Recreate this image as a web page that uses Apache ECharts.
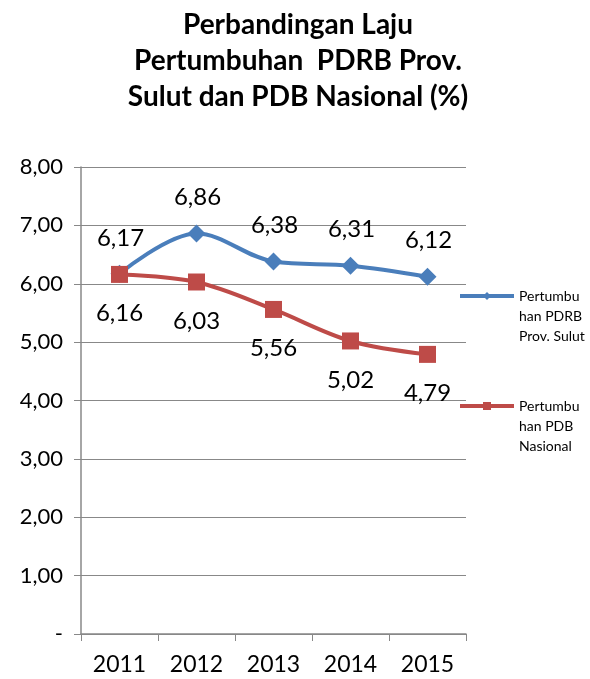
<!DOCTYPE html>
<html>
<head>
<meta charset="utf-8">
<script src="https://cdn.jsdelivr.net/npm/echarts@6/dist/echarts.min.js"></script>
<style>
  html, body { margin: 0; padding: 0; background: #fff; }
  #chart { width: 590px; height: 679px; }
</style>
</head>
<body>
<div id="chart"></div>
<script>
// data
const years = ['2011', '2012', '2013', '2014', '2015'];
const sulut = [6.17, 6.86, 6.38, 6.31, 6.12];
const nasional = [6.16, 6.03, 5.56, 5.02, 4.79];
const seriesNames = ['Pertumbuhan PDRB Prov. Sulut', 'Pertumbuhan PDB Nasional'];
// legend text wraps the same way the original does
const legendLines = {
  'Pertumbuhan PDRB Prov. Sulut': 'Pertumbu\nhan PDRB\nProv. Sulut',
  'Pertumbuhan PDB Nasional': 'Pertumbu\nhan PDB\nNasional'
};

const font = 'Lato, "Open Sans", sans-serif';
const fmt = v => v === 0 ? '-' : v.toFixed(2).replace('.', ',');

let chart = echarts.init(document.getElementById('chart'));
let legendBase = {
  orient: 'vertical',
  left: 458,
  padding: 0,
  itemWidth: 54,
  itemHeight: 10,
  // two blank lines above so the icon sits next to the first text line
  formatter: name => '\n\n' + legendLines[name],
  lineStyle: { width: 4 },
  textStyle: { fontFamily: font, fontSize: 14, lineHeight: 20, color: '#000' }
};
let labelBase = {
  show: true, position: 'inside',
  fontFamily: font, fontSize: 24, color: '#000',
  formatter: p => fmt(p.value)
};

chart.setOption({
  animation: false,
  title: {
    text: 'Perbandingan Laju\nPertumbuhan  PDRB Prov.\nSulut dan PDB Nasional (%)',
    left: 293,
    textAlign: 'center',
    top: 2,
    textStyle: { fontFamily: font, fontSize: 28, fontWeight: 'bold', lineHeight: 36, color: '#000' }
  },
  legend: [
    Object.assign({}, legendBase, { top: 246, data: [seriesNames[0]] }),
    Object.assign({}, legendBase, { top: 356, data: [seriesNames[1]] })
  ],
  grid: { left: 81, right: 124, top: 167, bottom: 45 },
  xAxis: {
    type: 'category',
    data: years,
    boundaryGap: true,
    axisLine: { lineStyle: { color: '#888', width: 1.5 } },
    axisTick: { show: true, length: 7, lineStyle: { color: '#888' } },
    axisLabel: { fontFamily: font, fontSize: 23, color: '#000', margin: 19 }
  },
  yAxis: {
    type: 'value',
    min: 0,
    max: 8,
    interval: 1,
    axisLine: { show: true, lineStyle: { color: '#888', width: 1.5 } },
    axisTick: { show: true, length: 7, lineStyle: { color: '#888' } },
    splitLine: { lineStyle: { color: '#888', width: 1.2 } },
    axisLabel: { fontFamily: font, fontSize: 22, color: '#000', margin: 18, formatter: fmt }
  },
  series: [
    {
      name: seriesNames[0],
      type: 'line',
      data: sulut,
      smooth: 0.35,
      symbol: 'diamond',
      symbolSize: 18,
      color: '#4A7EBB',
      lineStyle: { width: 4 },
      label: Object.assign({}, labelBase, { offset: [1, -36] })
    },
    {
      name: seriesNames[1],
      type: 'line',
      data: nasional,
      smooth: 0.35,
      symbol: 'rect',
      symbolSize: 17,
      color: '#BE4B48',
      lineStyle: { width: 4 },
      label: Object.assign({}, labelBase, { offset: [0, 39] })
    }
  ]
});
</script>
</body>
</html>
